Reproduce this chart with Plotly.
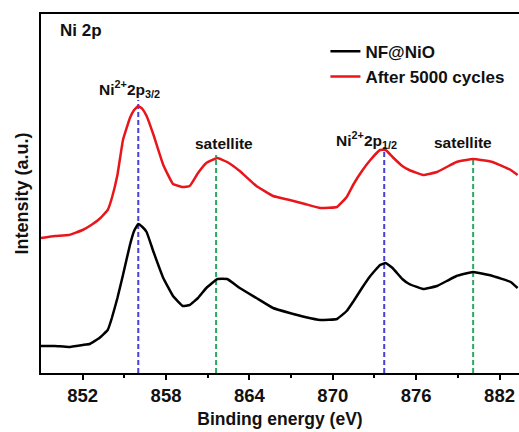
import plotly.graph_objects as go

# Binding energy grid (eV)
energy = [849.0, 850.0, 851.0, 852.0, 852.5, 853.2, 853.8, 854.1, 854.5, 854.9, 855.4, 855.7, 856.0, 856.3, 856.6,
          857.1, 857.8, 858.5, 859.2, 859.7, 860.3, 860.9, 861.7, 862.4, 863.3,
          864.5, 865.7, 866.9, 868.0, 869.1, 870.3, 871.0, 871.5, 872.1, 872.7, 873.4, 873.8, 874.3,
          875.0, 875.5, 876.5, 877.5, 878.2, 878.9, 880.1, 881.5, 882.8, 883.3]

# Intensity (a.u.)
after_5000 = [135, 137, 138, 143, 147, 154, 163, 175, 198, 233, 255, 263, 267, 264, 257,
              238, 208, 189, 186, 187, 200, 210, 215, 211, 202,
              187, 177, 173, 169, 165, 166, 176, 189, 202, 213, 223, 223, 216,
              207, 203, 198, 201, 206, 211, 214, 211, 203, 198]
nf_nio = [27, 27, 26, 28, 29, 35, 43, 55, 75, 98, 128, 142, 149, 146, 141,
          121, 95, 77, 67, 68, 75, 85, 94, 94, 85,
          75, 65, 60, 56, 53, 54, 62, 72, 85, 97, 108, 110, 105,
          94, 89, 84, 87, 92, 97, 101, 97, 91, 85]

# Peak markers
peak_pos = [856.0, 861.6, 873.7, 880.1]
peak_top = [273, 218, 226, 216]
peak_col = ["#4a3fd6", "#2aa866", "#4a3fd6", "#2aa866"]

label_text = ["Ni<sup>2+</sup>2p<sub>3/2</sub>", "satellite",
              "Ni<sup>2+</sup>2p<sub>1/2</sub>", "satellite"]
label_x = [855.4, 862.2, 872.45, 879.4]
label_y = [284, 230, 233, 231]

tick_vals = [852, 858, 864, 870, 876, 882]

fig = go.Figure()

for xp, yt, c in zip(peak_pos, peak_top, peak_col):
    fig.add_trace(go.Scatter(x=[xp, xp], y=[0, yt], mode="lines",
                             line=dict(color=c, width=2, dash="5px,3px"),
                             showlegend=False, hoverinfo="skip"))

fig.add_trace(go.Scatter(x=energy, y=nf_nio, mode="lines", name="<b>NF@NiO</b>",
                         line=dict(color="black", width=2.5, shape="spline", smoothing=0.3)))
fig.add_trace(go.Scatter(x=energy, y=after_5000, mode="lines", name="<b>After 5000 cycles</b>",
                         line=dict(color="#e8161b", width=2.5, shape="spline", smoothing=0.3)))

for t, x, y in zip(label_text, label_x, label_y):
    fig.add_annotation(x=x, y=y, text="<b>" + t + "</b>", showarrow=False,
                       font=dict(size=15.5, color="#111", family="Liberation Sans, Arial"))

fig.add_annotation(x=0.035, y=0.955, xref="paper", yref="paper", xanchor="left", yanchor="middle",
                   text="<b>Ni 2p</b>", showarrow=False,
                   font=dict(size=17, color="#111", family="Liberation Sans, Arial"))

fig.update_layout(
    width=519, height=432,
    margin=dict(l=41, r=0, t=14, b=59),
    paper_bgcolor="white", plot_bgcolor="white",
    font=dict(family="Liberation Sans, Arial", color="#111"),
    legend=dict(x=0.595, y=0.945, xanchor="left", yanchor="top",
                bgcolor="rgba(0,0,0,0)", font=dict(size=17, color="#111"),
                tracegroupgap=0, itemwidth=30),
    xaxis=dict(range=[849, 883.4], tickvals=tick_vals, ticktext=["<b>%d</b>" % v for v in tick_vals],
               ticks="outside", ticklen=5, tickwidth=2, tickcolor="black",
               minor=dict(tickvals=[855, 861, 867, 873, 879], ticks="outside", ticklen=3, tickwidth=2, tickcolor="black"),
               showline=True, linecolor="black", linewidth=2, mirror=True,
               showgrid=False, zeroline=False, tickfont=dict(size=18.5),
               title=dict(text="<b>Binding energy (eV)</b>", font=dict(size=17.5), standoff=8)),
    yaxis=dict(range=[0, 359], showticklabels=False, ticks="",
               showline=True, linecolor="black", linewidth=2, mirror=False,
               showgrid=False, zeroline=False,
               title=dict(text="<b>Intensity (a.u.)</b>", font=dict(size=18), standoff=6)),
)

fig.write_html("out.html")
